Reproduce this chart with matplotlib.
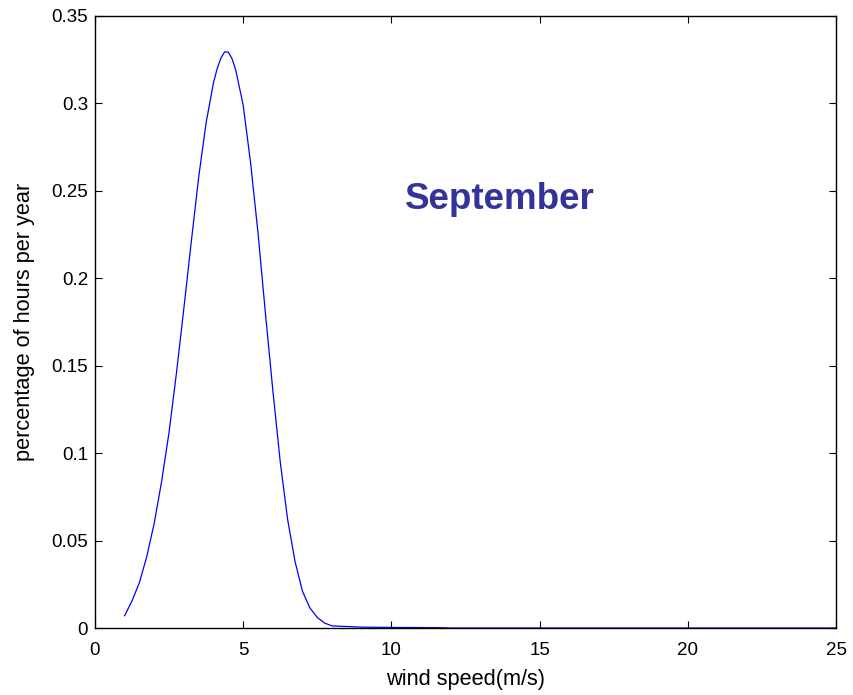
import matplotlib
matplotlib.use("Agg")
import matplotlib.pyplot as plt

plt.rcParams['font.family'] = ['Liberation Sans', 'DejaVu Sans']

# Wind speed distribution for September
wind_speed = [1.0, 1.25, 1.5, 1.75, 2.0, 2.25, 2.5, 2.75, 3.0, 3.25, 3.5, 3.75,
              4.0, 4.125, 4.25, 4.375, 4.5, 4.625, 4.75, 5.0, 5.25, 5.5, 5.75,
              6.0, 6.25, 6.5, 6.75, 7.0, 7.25, 7.5, 7.75, 8.0, 9.0, 10.0, 11.5,
              12.0, 15.0, 20.0, 25.0]
hours_share = [0.007, 0.0155, 0.026, 0.041, 0.060, 0.084, 0.112, 0.146, 0.183,
               0.221, 0.258, 0.289, 0.312, 0.320, 0.326, 0.3295, 0.3293, 0.3255,
               0.319, 0.299, 0.266, 0.226, 0.180, 0.136, 0.095, 0.062, 0.038,
               0.021, 0.0115, 0.006, 0.0028, 0.0012, 0.0005, 0.0003, 0.0002,
               0.0, 0.0, 0.0, 0.0]

x_ticks = [0, 5, 10, 15, 20, 25]
y_ticks = [0, 0.05, 0.1, 0.15, 0.2, 0.25, 0.3, 0.35]
y_tick_labels = ['0', '0.05', '0.1', '0.15', '0.2', '0.25', '0.3', '0.35']

fig = plt.figure(figsize=(8.54, 6.95), dpi=100)
ax = fig.add_axes([0.1112, 0.0964, 0.979 - 0.1112, 0.977 - 0.0964])

ax.plot(wind_speed, hours_share, color='#0000ff', linewidth=0.9)

ax.set_xlim(0, 25)
ax.set_ylim(0, 0.35)
ax.set_xticks(x_ticks)
ax.set_xticklabels([str(t) for t in x_ticks])
ax.set_yticks(y_ticks)
ax.set_yticklabels(y_tick_labels)
ax.tick_params(direction='in', length=5, width=0.8, top=True, right=True,
               labelsize=13.5)
ax.tick_params(axis='x', pad=10)
ax.tick_params(axis='y', pad=5)
for spine in ax.spines.values():
    spine.set_linewidth(1.0)

ax.set_xlabel('wind speed(m/s)', fontsize=15.7, labelpad=7)
ax.set_ylabel('percentage of hours per year', fontsize=15.7, labelpad=12)

ax.text(13.66, 0.245, 'September', color='#333399', fontsize=26.5,
        fontweight='bold', ha='center', va='center')

fig.savefig('out.png', dpi=100)
